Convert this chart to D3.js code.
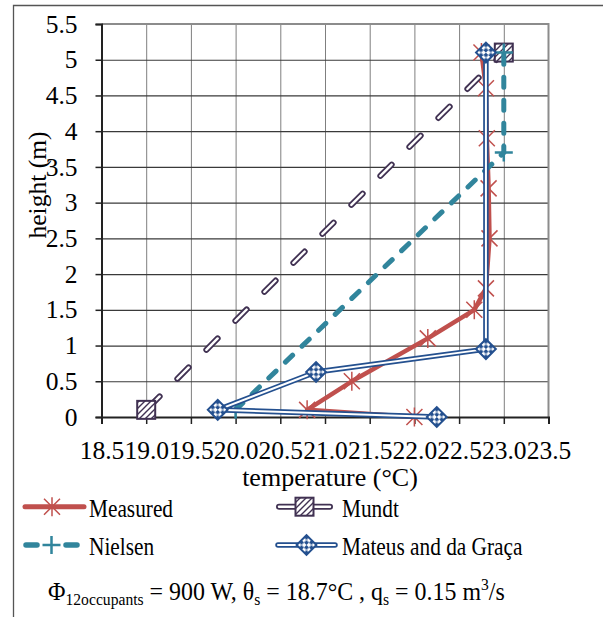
<!DOCTYPE html>
<html>
<head>
<meta charset="utf-8">
<script src="https://cdn.jsdelivr.net/npm/d3@7"></script>
<style>
  body { margin: 0; background: #fff; }
</style>
</head>
<body>
<svg id="myGraph" width="603" height="617"></svg>
<script>
// data
var xTicks = [18.5, 19.0, 19.5, 20.0, 20.5, 21.0, 21.5, 22.0, 22.5, 23.0, 23.5];
var yTicks = [0, 0.5, 1, 1.5, 2, 2.5, 3, 3.5, 4, 4.5, 5, 5.5];

var measuredT = [22.0, 20.8, 21.3, 22.15, 22.67, 22.8, 22.84, 22.83, 22.81, 22.8, 22.75];
var measuredH = [0, 0.1, 0.5, 1.1, 1.5, 1.8, 2.5, 3.2, 3.9, 4.6, 5.1];
var mundtT = [19.0, 23.0];
var mundtH = [0.1, 5.1];
var nielsenT = [20.0, 23.0, 23.0];
var nielsenH = [0.1, 3.7, 5.1];
var mateusT = [22.25, 19.8, 20.9, 22.8, 22.8];
var mateusH = [0, 0.1, 0.63, 0.95, 5.1];

var seriesNames = ["Measured", "Mundt", "Nielsen", "Mateus and da Graça"];

var red = "#C0504D", purple = "#403152", teal = "#31859C", blue = "#24508F";
var serif = "'Liberation Serif', 'Times New Roman', serif";

function pts(t, h){ return t.map(function(d, i){ return [d, h[i]]; }); }

var svg = d3.select("#myGraph");
var x = d3.scaleLinear().domain([18.5, 23.5]).range([101.5, 548.5]);
var y = d3.scaleLinear().domain([0, 5.5]).range([417, 24]);
var line = d3.line().x(function(d){ return x(d[0]); }).y(function(d){ return y(d[1]); });

// patterns for the markers
var defs = svg.append("defs");
var hatch = defs.append("pattern").attr("id", "hatch")
    .attr("patternUnits", "userSpaceOnUse").attr("width", 6).attr("height", 6);
hatch.append("rect").attr("width", 6).attr("height", 6).attr("fill", "#fff");
hatch.append("path").attr("d", "M0,6L6,0M-1.5,1.5L1.5,-1.5M4.5,7.5L7.5,4.5")
    .attr("stroke", purple).attr("stroke-width", 1.4);
var check = defs.append("pattern").attr("id", "check")
    .attr("patternUnits", "userSpaceOnUse").attr("width", 7).attr("height", 7);
check.append("rect").attr("width", 7).attr("height", 7).attr("fill", "#fff");
check.append("rect").attr("width", 3.5).attr("height", 3.5).attr("fill", blue);
check.append("rect").attr("x", 3.5).attr("y", 3.5).attr("width", 3.5).attr("height", 3.5).attr("fill", blue);

// outer frame
svg.append("path").attr("d", "M13.5,617V5.5H603").attr("fill", "none")
    .attr("stroke", "#555").attr("stroke-width", 1.3);

// grid
svg.append("g").attr("transform", "translate(0,417)")
    .call(d3.axisBottom(x).tickValues(xTicks.slice(1, -1)).tickSize(-393).tickFormat(""))
    .call(function(g){ g.select(".domain").remove(); })
    .selectAll("line").attr("stroke", "#7f7f7f").attr("stroke-width", 1);
svg.append("g").attr("transform", "translate(101.5,0)")
    .call(d3.axisLeft(y).tickValues(yTicks.slice(1, -1)).tickSize(-447).tickFormat(""))
    .call(function(g){ g.select(".domain").remove(); })
    .selectAll("line").attr("stroke", "#3a3a3a").attr("stroke-width", 1.2);

// plot box top / right
svg.append("path").attr("d", "M101.5,24H548.5V417").attr("fill", "none")
    .attr("stroke", "#8c8c8c").attr("stroke-width", 2);

// axes
var xAxis = svg.append("g").attr("transform", "translate(0,417)")
    .call(d3.axisBottom(x).tickValues(xTicks).tickSize(7).tickPadding(16.5).tickFormat(d3.format(".1f")));
var yAxis = svg.append("g").attr("transform", "translate(101.5,0)")
    .call(d3.axisLeft(y).tickValues(yTicks).tickSize(6).tickPadding(18).tickFormat(function(d){ return String(d); }));
[xAxis, yAxis].forEach(function(a){
  a.select(".domain").attr("stroke", "#222").attr("stroke-width", 2);
  a.selectAll(".tick line").attr("stroke", "#222").attr("stroke-width", 1.5);
  a.selectAll(".tick text").attr("font-size", 25.5)
    .style("font-family", serif).attr("fill", "#000");
});

svg.append("text").attr("x", 330).attr("y", 486).attr("text-anchor", "middle")
    .attr("font-size", 26).style("font-family", serif).text("temperature (°C)");
svg.append("text").attr("transform", "translate(46,185) rotate(-90)")
    .attr("text-anchor", "middle").attr("font-size", 25.5).style("font-family", serif).text("height (m)");

// marker drawers
function star(g, cx, cy, c){
  g.append("path").attr("d", "M" + (cx - 8) + "," + (cy - 8) + "L" + (cx + 8) + "," + (cy + 8) +
      "M" + (cx - 8) + "," + (cy + 8) + "L" + (cx + 8) + "," + (cy - 8) +
      "M" + cx + "," + (cy - 9.5) + "L" + cx + "," + (cy + 9.5))
    .attr("stroke", c).attr("stroke-width", 1.5).attr("fill", "none");
}
function square(g, cx, cy){
  g.append("rect").attr("x", cx - 9).attr("y", cy - 9).attr("width", 18).attr("height", 18)
    .attr("fill", "url(#hatch)").attr("stroke", purple).attr("stroke-width", 2);
}
function plus(g, cx, cy){
  g.append("path").attr("d", "M" + (cx - 9) + "," + cy + "H" + (cx + 9) + "M" + cx + "," + (cy - 9) + "V" + (cy + 9))
    .attr("stroke", teal).attr("stroke-width", 2.5).attr("fill", "none");
}
function diamond(g, cx, cy){
  g.append("rect").attr("x", -7).attr("y", -7).attr("width", 14).attr("height", 14)
    .attr("transform", "translate(" + cx + "," + cy + ") rotate(45)")
    .attr("fill", "url(#check)").attr("stroke", blue).attr("stroke-width", 2);
}

// series
var gM = svg.append("g");
gM.append("path").datum(pts(measuredT, measuredH)).attr("d", line)
    .attr("fill", "none").attr("stroke", red).attr("stroke-width", 4.5).attr("stroke-linejoin", "round");
pts(measuredT, measuredH).forEach(function(d){ star(gM, x(d[0]), y(d[1]), red); });

var gU = svg.append("g");
gU.append("path").datum(pts(mundtT, mundtH)).attr("d", line)
    .attr("fill", "none").attr("stroke", purple).attr("stroke-width", 6)
    .attr("stroke-linecap", "round").attr("stroke-dasharray", "16,25").attr("stroke-dashoffset", 38);
gU.append("path").datum(pts(mundtT, mundtH)).attr("d", line)
    .attr("fill", "none").attr("stroke", "#fff").attr("stroke-width", 2.4)
    .attr("stroke-linecap", "round").attr("stroke-dasharray", "16,25").attr("stroke-dashoffset", 38);
pts(mundtT, mundtH).forEach(function(d){ square(gU, x(d[0]), y(d[1])); });

var gN = svg.append("g");
gN.append("path").datum(pts(nielsenT, nielsenH)).attr("d", line)
    .attr("fill", "none").attr("stroke", teal).attr("stroke-width", 5)
    .attr("stroke-linecap", "round").attr("stroke-dasharray", "10,13");
pts(nielsenT, nielsenH).forEach(function(d){ plus(gN, x(d[0]), y(d[1])); });

var gG = svg.append("g");
gG.append("path").datum(pts(mateusT, mateusH)).attr("d", line)
    .attr("fill", "none").attr("stroke", blue).attr("stroke-width", 5.5).attr("stroke-linejoin", "round");
gG.append("path").datum(pts(mateusT, mateusH)).attr("d", line)
    .attr("fill", "none").attr("stroke", "#fff").attr("stroke-width", 2).attr("stroke-linejoin", "round");
pts(mateusT, mateusH).forEach(function(d){ diamond(gG, x(d[0]), y(d[1])); });

// legend
var lg = svg.append("g");
// Measured
lg.append("path").attr("d", "M25,506.7H84").attr("stroke", red).attr("stroke-width", 5).attr("stroke-linecap", "round");
star(lg, 52, 506.7, red);
// Mundt
lg.append("path").attr("d", "M279,506.7H330").attr("stroke", purple).attr("stroke-width", 6).attr("stroke-linecap", "round");
lg.append("path").attr("d", "M279,506.7H330").attr("stroke", "#fff").attr("stroke-width", 2.4).attr("stroke-linecap", "round");
square(lg, 304.5, 506.7);
// Nielsen
lg.append("path").attr("d", "M26,545H77").attr("stroke", teal).attr("stroke-width", 5.5)
    .attr("stroke-linecap", "round").attr("stroke-dasharray", "11,29");
plus(lg, 51.5, 545);
// Mateus
lg.append("path").attr("d", "M278,545H335").attr("stroke", blue).attr("stroke-width", 5.5).attr("stroke-linecap", "round");
lg.append("path").attr("d", "M278,545H335").attr("stroke", "#fff").attr("stroke-width", 2).attr("stroke-linecap", "round");
diamond(lg, 306.5, 545);

lg.selectAll("text.lab").data(seriesNames).enter().append("text")
    .attr("transform", function(d, i){
      return "translate(" + (i % 2 ? 342 : 89) + "," + (i < 2 ? 516.5 : 555) + ") scale(0.87,1)";
    })
    .attr("font-size", 24.5).style("font-family", serif)
    .text(function(d){ return d; });

// conditions line
var f = svg.append("text").attr("transform", "translate(48,600) scale(0.92,1)")
    .attr("font-size", 26).style("font-family", serif);
f.append("tspan").text("Φ");
f.append("tspan").attr("font-size", 17).attr("dy", 5).text("12occupants");
f.append("tspan").attr("dy", -5).text(" = 900 W, θ");
f.append("tspan").attr("font-size", 17).attr("dy", 5).text("s");
f.append("tspan").attr("dy", -5).text(" = 18.7°C , q");
f.append("tspan").attr("font-size", 17).attr("dy", 5).text("s");
f.append("tspan").attr("dy", -5).text(" = 0.15 m");
f.append("tspan").attr("font-size", 17).attr("dy", -10).text("3");
f.append("tspan").attr("dy", 10).text("/s");
</script>
</body>
</html>
